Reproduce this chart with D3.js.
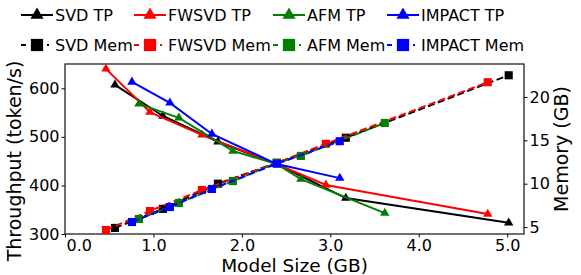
<!DOCTYPE html>
<html>
<head>
<meta charset="utf-8">
<script src="https://cdn.jsdelivr.net/npm/d3@7"></script>
<style>
  body { margin: 0; background: #fff; }
  svg { font-family: "DejaVu Sans", sans-serif; }
</style>
</head>
<body>
<script>
// Model size (GB) per method, throughput (token/s) and memory (GB)
const sizeSVD = [0.565, 1.107, 1.729, 2.395, 3.175, 5.017];
const tpSVD = [607, 543, 490, 444, 374, 323];
const memSVD = [4.9, 7.1, 10.0, 12.4, 15.3, 22.5];

const sizeFWSVD = [0.463, 0.96, 1.548, 2.395, 2.95, 4.78];
const tpFWSVD = [640, 551, 504, 444, 401, 341];
const memFWSVD = [4.66, 6.85, 9.27, 12.4, 14.6, 21.7];

const sizeAFM = [0.836, 1.288, 1.898, 2.395, 2.667, 3.616];
const tpAFM = [568, 539, 471, 444, 413, 343];
const memAFM = [5.93, 7.78, 10.3, 12.4, 13.2, 17.0];

const sizeIMPACT = [0.757, 1.186, 1.661, 2.395, 3.107];
const tpIMPACT = [613, 570, 506, 444, 415];
const memIMPACT = [5.58, 7.31, 9.39, 12.3, 14.9];

const methods = ["SVD", "FWSVD", "AFM", "IMPACT"];
const colors = ["#000000", "#ff0000", "#008000", "#0000ff"];
const xTicks = [0, 1, 2, 3, 4, 5];
const yLeftTicks = [300, 400, 500, 600];
const yRightTicks = [5, 10, 15, 20];

const sizes = [sizeSVD, sizeFWSVD, sizeAFM, sizeIMPACT];
const tps = [tpSVD, tpFWSVD, tpAFM, tpIMPACT];
const mems = [memSVD, memFWSVD, memAFM, memIMPACT];

const W = 581, H = 275;
const plot = {left: 65, right: 524, top: 64, bottom: 234};

const svg = d3.select("body").append("svg")
    .attr("width", W).attr("height", H);

const x = d3.scaleLinear().domain([0, 5.19]).range([plot.left, plot.right]);
const yL = d3.scaleLinear().domain([300, 650]).range([plot.bottom, plot.top]);
const yR = d3.scaleLinear().domain([4.2, 23.8]).range([plot.bottom, plot.top]);

// axes
const gx = svg.append("g")
    .attr("transform", `translate(0,${plot.bottom})`)
    .call(d3.axisBottom(x).tickValues(xTicks).tickFormat(d3.format(".1f")).tickSizeOuter(0).tickSize(3.5).tickPadding(2));
gx.selectAll("text").filter(d => d === 0).attr("text-anchor", "start").attr("dx", "1");

const gyl = svg.append("g")
    .attr("transform", `translate(${plot.left},0)`)
    .call(d3.axisLeft(yL).tickValues(yLeftTicks).tickSizeOuter(0).tickSize(3.5).tickPadding(2));

const gyr = svg.append("g")
    .attr("transform", `translate(${plot.right},0)`)
    .call(d3.axisRight(yR).tickValues(yRightTicks).tickSizeOuter(0).tickSize(3.5).tickPadding(2));

[gx, gyl, gyr].forEach(g => {
  g.select(".domain").remove();
  g.selectAll("text").attr("font-size", 16).attr("fill", "#000")
    .attr("font-family", "DejaVu Sans");
  g.selectAll("line").attr("stroke", "#000");
});

// frame
svg.append("rect")
    .attr("x", plot.left).attr("y", plot.top)
    .attr("width", plot.right - plot.left).attr("height", plot.bottom - plot.top)
    .attr("fill", "none").attr("stroke", "#222").attr("stroke-width", 1.3);

// axis labels
svg.append("text")
    .attr("x", (plot.left + plot.right) / 2).attr("y", 272)
    .attr("text-anchor", "middle").attr("font-size", 18.5)
    .text("Model Size (GB)");
svg.append("text")
    .attr("transform", "translate(14,161) rotate(-90)")
    .attr("dy", "0.35em")
    .attr("text-anchor", "middle").attr("font-size", 19)
    .text("Throughput (token/s)");
svg.append("text")
    .attr("transform", "translate(561,149) rotate(-90)")
    .attr("dy", "0.35em")
    .attr("text-anchor", "middle").attr("font-size", 19)
    .text("Memory (GB)");

const tri = d3.symbol().type(d3.symbolTriangle);
const sq = d3.symbol().type(d3.symbolSquare);

// throughput lines
methods.forEach((m, i) => {
  const pts = sizes[i].map((s, j) => [x(s), yL(tps[i][j])]);
  svg.append("path")
      .attr("d", d3.line()(pts))
      .attr("fill", "none").attr("stroke", colors[i]).attr("stroke-width", 2);
  svg.selectAll(null).data(pts).enter().append("path")
      .attr("transform", d => `translate(${d[0]},${d[1]})`)
      .attr("d", tri.size(38)())
      .attr("fill", colors[i]);
});

// memory lines
methods.forEach((m, i) => {
  const pts = sizes[i].map((s, j) => [x(s), yR(mems[i][j])]);
  svg.append("path")
      .attr("d", d3.line()(pts))
      .attr("fill", "none").attr("stroke", colors[i]).attr("stroke-width", 2)
      .attr("stroke-dasharray", "7,3.5");
  svg.selectAll(null).data(pts).enter().append("path")
      .attr("transform", d => `translate(${d[0]},${d[1]})`)
      .attr("d", sq.size(66)())
      .attr("fill", colors[i]);
});

// legend
const legX = [21, 134, 273, 387];
const legRows = [15, 45];
methods.forEach((m, i) => {
  const x0 = legX[i];
  // TP entry
  svg.append("line")
      .attr("x1", x0).attr("x2", x0 + 32).attr("y1", legRows[0]).attr("y2", legRows[0])
      .attr("stroke", colors[i]).attr("stroke-width", 2);
  svg.append("path")
      .attr("transform", `translate(${x0 + 16},${legRows[0]})`)
      .attr("d", tri.size(75)())
      .attr("fill", colors[i]);
  svg.append("text")
      .attr("x", x0 + 34).attr("y", legRows[0]).attr("dy", "0.36em")
      .attr("font-size", 16).text(m + " TP");
  // Mem entry
  svg.append("line")
      .attr("x1", x0).attr("x2", x0 + 32).attr("y1", legRows[1]).attr("y2", legRows[1])
      .attr("stroke", colors[i]).attr("stroke-width", 2)
      .attr("stroke-dasharray", "5,21,2,30");
  svg.append("path")
      .attr("transform", `translate(${x0 + 16},${legRows[1]})`)
      .attr("d", sq.size(150)())
      .attr("fill", colors[i]);
  svg.append("text")
      .attr("x", x0 + 34).attr("y", legRows[1]).attr("dy", "0.36em")
      .attr("font-size", 16).text(m + " Mem");
});
</script>
</body>
</html>
